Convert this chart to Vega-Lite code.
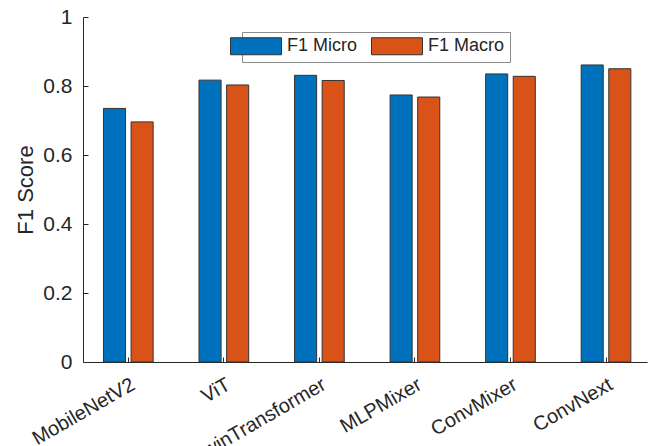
{
  "$schema": "https://vega.github.io/schema/vega-lite/v6.json",
  "autosize": {"type": "none"},
  "padding": {"left": 83, "top": 17, "right": 2, "bottom": 84},
  "width": 564,
  "height": 345,
  "background": "white",
  "config": {
    "view": {"stroke": null},
    "font": "Liberation Sans",
    "axis": {"grid": false, "domainColor": "#262626", "tickColor": "#262626", "labelColor": "#262626", "titleColor": "#262626", "labelFont": "Liberation Sans", "titleFont": "Liberation Sans", "domainWidth": 1, "tickWidth": 1}
  },
  "data": {
    "values": [
      {"model": "MobileNetV2", "metric": "F1 Micro", "value": 0.735},
      {"model": "MobileNetV2", "metric": "F1 Macro", "value": 0.696},
      {"model": "ViT", "metric": "F1 Micro", "value": 0.817},
      {"model": "ViT", "metric": "F1 Macro", "value": 0.803},
      {"model": "SwinTransformer", "metric": "F1 Micro", "value": 0.831},
      {"model": "SwinTransformer", "metric": "F1 Macro", "value": 0.816},
      {"model": "MLPMixer", "metric": "F1 Micro", "value": 0.774},
      {"model": "MLPMixer", "metric": "F1 Macro", "value": 0.768},
      {"model": "ConvMixer", "metric": "F1 Micro", "value": 0.835},
      {"model": "ConvMixer", "metric": "F1 Macro", "value": 0.828},
      {"model": "ConvNext", "metric": "F1 Micro", "value": 0.861},
      {"model": "ConvNext", "metric": "F1 Macro", "value": 0.850}
    ]
  },
  "mark": {"type": "bar", "stroke": "#333333", "strokeWidth": 1},
  "encoding": {
    "x": {
      "field": "model", "type": "nominal", "sort": null,
      "scale": {"paddingInner": 0.48, "paddingOuter": 0.1917, "align": 0.559},
      "axis": {"title": null, "labelAngle": -30, "labelAlign": "right", "labelBaseline": "top", "labelFontSize": 20, "tickSize": -5, "labelPadding": 17, "labelDx": 11.5, "labelDy": 0}
    },
    "xOffset": {
      "field": "metric", "type": "nominal",
      "scale": {"domain": ["F1 Micro", "F1 Macro"], "paddingInner": 0.2, "paddingOuter": 0}
    },
    "y": {
      "field": "value", "type": "quantitative",
      "scale": {"domain": [0, 1], "nice": false},
      "axis": {"title": "F1 Score", "titleFontSize": 22, "titleFontWeight": "normal", "values": [0, 0.2, 0.4, 0.6, 0.8, 1], "format": "~g", "labelFontSize": 21, "tickSize": -5, "labelPadding": 16, "titlePadding": 5}
    },
    "color": {
      "field": "metric", "type": "nominal",
      "scale": {"domain": ["F1 Micro", "F1 Macro"], "range": ["#0072BD", "#D95319"]},
      "legend": {
        "title": null, "orient": "none", "legendX": 159, "legendY": 15, "direction": "horizontal", "zindex": 1,
        "symbolType": "M-3,-1H3V1H-3Z", "symbolSize": 289, "symbolStrokeColor": "#333333", "symbolStrokeWidth": 1, "symbolOpacity": 1,
        "labelFontSize": 18, "labelColor": "#262626", "labelOffset": 22, "columnPadding": 11,
        "padding": 5, "strokeColor": "#8c8c8c", "fillColor": "white"
      }
    }
  }
}
